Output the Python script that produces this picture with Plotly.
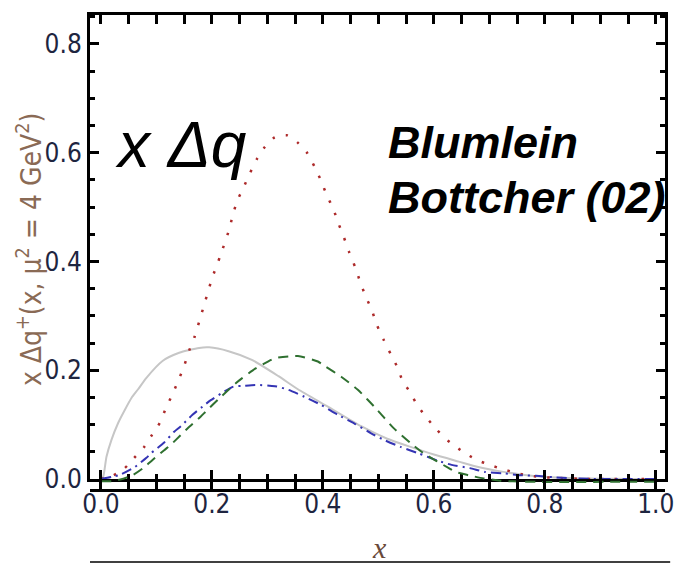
import plotly.graph_objects as go

# Polarized quark distributions x*Δq(x) at μ² = 4 GeV² (Blumlein–Bottcher 02)
x_gray = [0, 0.004, 0.01, 0.019, 0.031, 0.043, 0.055, 0.067, 0.082, 0.111, 0.141,
          0.177, 0.195, 0.23, 0.272, 0.32, 0.355, 0.409, 0.469, 0.516, 0.558, 0.6,
          0.645, 0.68, 0.72, 0.76, 0.8, 0.85, 0.9, 0.95, 1.0]
y_gray = [0, 0.004, 0.041, 0.072, 0.103, 0.127, 0.149, 0.165, 0.186, 0.217, 0.232,
          0.241, 0.242, 0.235, 0.219, 0.189, 0.165, 0.133, 0.097, 0.074, 0.059, 0.045,
          0.032, 0.022, 0.014, 0.008, 0.004, 0.0015, 0.0005, 0.0001, 0]

x_red = [0, 0.023, 0.043, 0.06, 0.078, 0.092, 0.106, 0.117, 0.129, 0.14, 0.15, 0.159,
         0.169, 0.177, 0.186, 0.193, 0.2, 0.215, 0.23, 0.237, 0.245, 0.257, 0.269,
         0.281, 0.295, 0.313, 0.335, 0.355, 0.372, 0.385, 0.396, 0.407, 0.419, 0.428,
         0.438, 0.447, 0.458, 0.467, 0.477, 0.488, 0.497, 0.509, 0.522, 0.534, 0.543,
         0.558, 0.57, 0.585, 0.606, 0.62, 0.64, 0.66, 0.68, 0.7, 0.725, 0.745, 0.766,
         0.79, 0.82, 0.86, 0.9, 1.0]
y_red = [0, 0.007, 0.02, 0.039, 0.059, 0.081, 0.103, 0.13, 0.156, 0.182, 0.208, 0.236,
         0.262, 0.289, 0.32, 0.344, 0.368, 0.41, 0.455, 0.482, 0.51, 0.536, 0.563,
         0.588, 0.61, 0.628, 0.632, 0.618, 0.599, 0.574, 0.55, 0.522, 0.496, 0.47,
         0.444, 0.418, 0.39, 0.363, 0.336, 0.311, 0.284, 0.257, 0.23, 0.206, 0.182,
         0.158, 0.136, 0.115, 0.09, 0.075, 0.059, 0.045, 0.034, 0.026, 0.018, 0.012,
         0.007, 0.004, 0.002, 0.0005, 0, 0]

# the green curve dips marginally below zero near both ends
x_green = [0, 0.02, 0.035, 0.057, 0.076, 0.093, 0.114, 0.126, 0.144, 0.156, 0.18, 0.189,
           0.213, 0.243, 0.254, 0.278, 0.287, 0.314, 0.355, 0.391, 0.403, 0.433, 0.463,
           0.498, 0.528, 0.558, 0.582, 0.627, 0.639, 0.662, 0.69, 0.72, 0.76, 1.0]
y_green = [-0.004, -0.004, -0.001, 0.007, 0.02, 0.035, 0.053, 0.063, 0.081, 0.093, 0.115,
           0.124, 0.148, 0.176, 0.185, 0.203, 0.208, 0.222, 0.226, 0.216, 0.208, 0.188,
           0.164, 0.127, 0.093, 0.066, 0.047, 0.02, 0.013, 0.007, 0.001, -0.003, -0.005,
           -0.005]

x_blue = [0, 0.02, 0.035, 0.061, 0.082, 0.091, 0.114, 0.132, 0.144, 0.165, 0.183, 0.198,
          0.218, 0.239, 0.254, 0.278, 0.308, 0.317, 0.338, 0.367, 0.397, 0.427, 0.457,
          0.487, 0.51, 0.54, 0.573, 0.609, 0.632, 0.665, 0.692, 0.725, 0.755, 0.784,
          0.82, 0.86, 0.9, 1.0]
y_blue = [0, 0.004, 0.008, 0.022, 0.039, 0.048, 0.067, 0.087, 0.097, 0.118, 0.133, 0.145,
          0.158, 0.17, 0.171, 0.173, 0.171, 0.17, 0.164, 0.151, 0.136, 0.118, 0.102,
          0.084, 0.072, 0.059, 0.047, 0.033, 0.026, 0.02, 0.013, 0.0105, 0.007, 0.006,
          0.003, 0.001, 0, 0]

x_ticks = [0.0, 0.2, 0.4, 0.6, 0.8, 1.0]
y_ticks = [0.0, 0.2, 0.4, 0.6, 0.8]

# frame geometry (pixels): plot top, x-axis line, and an extra strip below the axis
W, H = 686, 564
TOP, AXIS, LOW = 15, 479, 489
Y_MAX = 0.853
per_px = Y_MAX / (AXIS - TOP)
paper_h = LOW - TOP


def py(p):
    """Pixel row -> paper y coordinate."""
    return (LOW - p) / paper_h


fig = go.Figure()

series = [
    (x_gray, y_gray, "#c6c6c6", "solid", 2, "y"),
    (x_red, y_red, "#ad2a2a", "2.5px,11px", 2.5, "y"),
    (x_green, y_green, "#2f7030", "10px,7px", 2, "y2"),
    (x_blue, y_blue, "#3434b4", "10px,5px,2px,5px", 2, "y"),
]
for xs, ys, col, dash, w, yax in series:
    fig.add_trace(go.Scatter(
        x=xs, y=ys, mode="lines", xaxis="x", yaxis=yax,
        line=dict(color=col, dash=dash, width=w, shape="spline", smoothing=0.6),
        showlegend=False, hoverinfo="skip",
    ))

tick_font = dict(family="Liberation Sans Narrow, DejaVu Sans Condensed, Liberation Sans",
                 size=26, color="#1e2540")
axis_common = dict(
    showline=True, linecolor="black", linewidth=3, mirror="allticks",
    ticks="inside", ticklen=9, tickwidth=2.5, tickcolor="black",
    showgrid=False, zeroline=False, tickfont=tick_font,
    minor=dict(ticks="inside", ticklen=5, tickwidth=2.5, tickcolor="black",
               dtick=0.05, showgrid=False),
)

fig.update_layout(
    xaxis=dict(range=[-0.0197, 1.0166], tickvals=x_ticks,
               ticktext=[f"{v:.1f}" for v in x_ticks], anchor="y", **axis_common),
    yaxis=dict(range=[0, Y_MAX], domain=[py(AXIS), 1], tickvals=y_ticks,
               ticktext=[f"{v:.1f}" for v in y_ticks], anchor="x", **axis_common),
    # same scale as yaxis, reaching a few pixels below the frame
    yaxis2=dict(range=[-(LOW - AXIS) * per_px, Y_MAX], domain=[0, 1],
                visible=False, anchor="x", showgrid=False, zeroline=False),
)

fig.add_annotation(text="<i>x Δq</i>", xref="paper", yref="paper",
                   x=0.040, y=py(145), xanchor="left", yanchor="middle", showarrow=False,
                   font=dict(family="Liberation Sans", size=64, color="black"))
fig.add_annotation(text="<b><i>Blumlein</i></b>", xref="paper", yref="paper",
                   x=0.514, y=py(142.6), xanchor="left", yanchor="middle", showarrow=False,
                   font=dict(family="Liberation Sans", size=45, color="black"))
fig.add_annotation(text="<b><i>Bottcher (02)</i></b>", xref="paper", yref="paper",
                   x=0.514, y=py(197.5), xanchor="left", yanchor="middle", showarrow=False,
                   font=dict(family="Liberation Sans", size=45, color="black"))

fig.add_annotation(text="<i>x</i>", xref="paper", yref="paper",
                   x=0.503, y=py(547), xanchor="center", yanchor="middle", showarrow=False,
                   font=dict(family="Liberation Serif", size=30, color="#6a4a3a"))
fig.add_annotation(text="x Δq<sup>+</sup>(x, μ<sup>2</sup> = 4 GeV<sup>2</sup>)",
                   xref="paper", yref="paper", x=-0.106, y=py(250),
                   xanchor="center", yanchor="middle", textangle=-90, showarrow=False,
                   font=dict(family="Liberation Sans Narrow, DejaVu Sans Condensed, Liberation Sans",
                             size=28, color="#8a6a55"))

fig.add_shape(type="line", xref="paper", yref="paper", x0=0.0, x1=1.009,
              y0=py(562), y1=py(562), line=dict(color="black", width=1.5))

fig.update_layout(
    width=W, height=H,
    margin=dict(l=90, r=16, t=TOP, b=H - LOW),
    paper_bgcolor="white", plot_bgcolor="rgba(0,0,0,0)",
)

fig.write_html("out.html")
